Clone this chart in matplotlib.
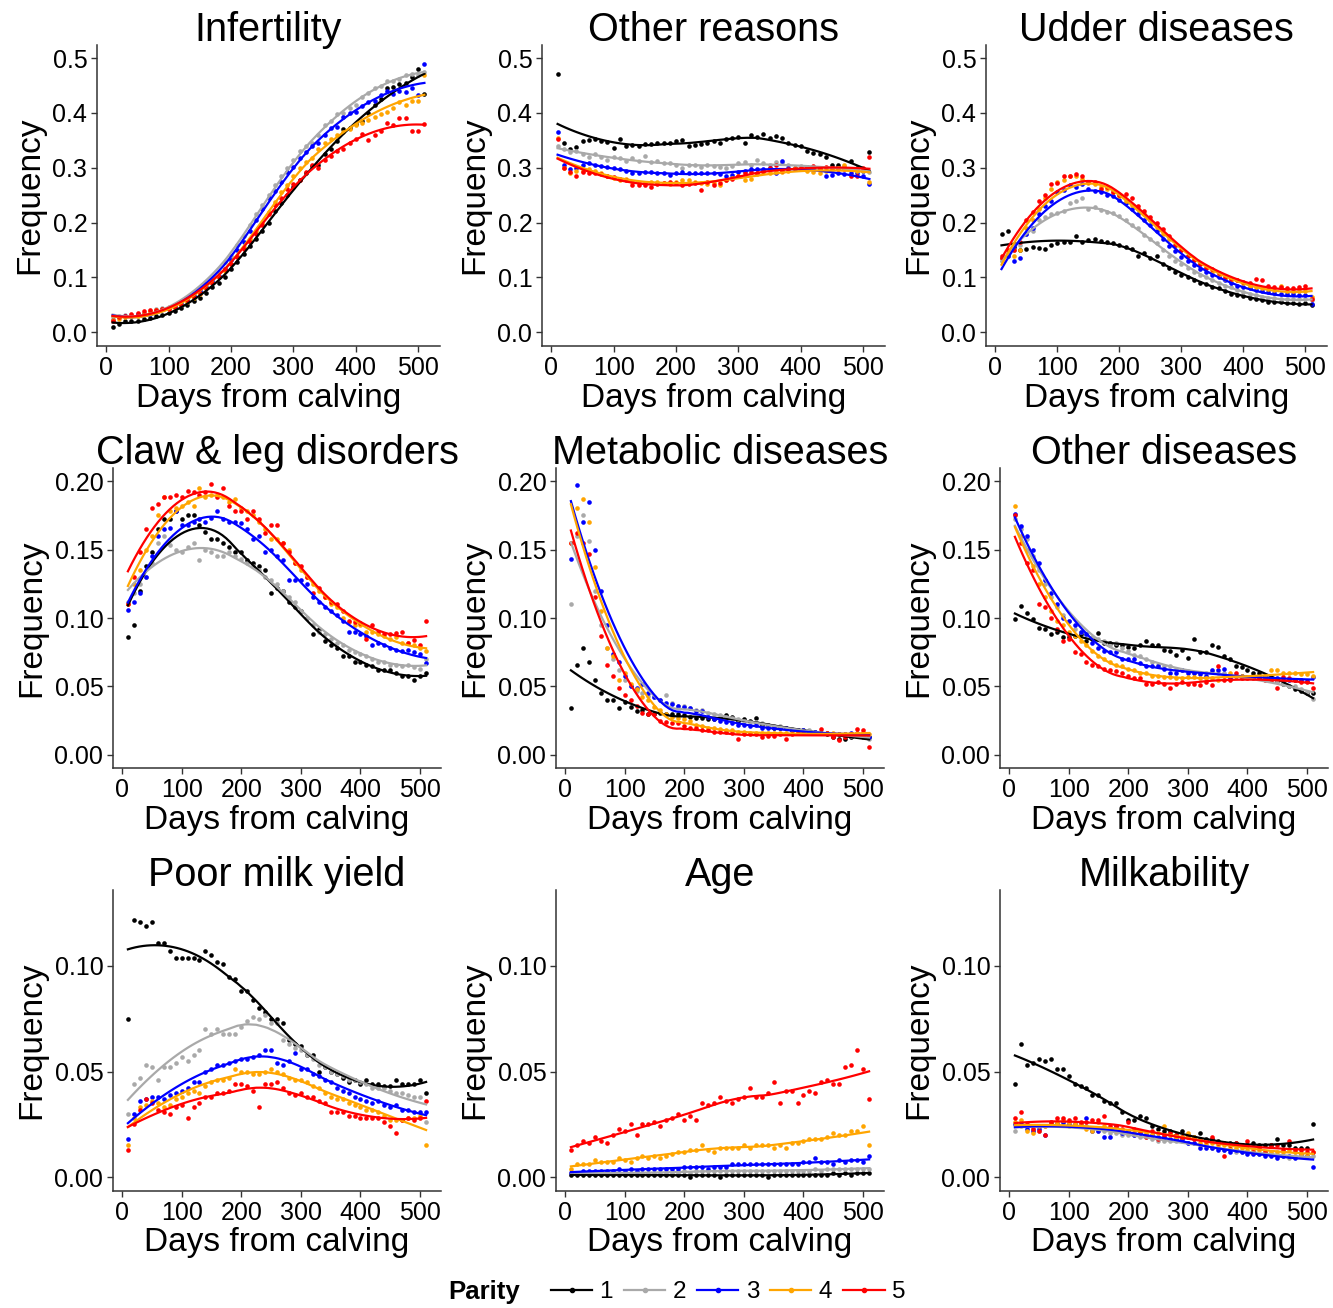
import numpy as np
import matplotlib
matplotlib.use("Agg")
import matplotlib.pyplot as plt
from matplotlib.lines import Line2D

plt.rcParams['font.family'] = ['Liberation Sans', 'DejaVu Sans']

days = list(range(10, 511, 10))
parity = ['1', '2', '3', '4', '5']
colors = ['black', '#A9A9A9', '#0000FF', '#FFA500', '#FF0000']

# frequencies per parity 1..5, one value every 10 days from 10 to 510
infertility = [
    [0.010, 0.015, 0.020, 0.020, 0.021, 0.024, 0.026, 0.030, 0.032, 0.036,
     0.038, 0.045, 0.050, 0.057, 0.063, 0.072, 0.082, 0.090, 0.100, 0.115,
     0.128, 0.142, 0.158, 0.170, 0.185, 0.200, 0.222, 0.235, 0.250, 0.265,
     0.278, 0.290, 0.303, 0.305, 0.325, 0.335, 0.348, 0.370, 0.372, 0.380,
     0.385, 0.400, 0.415, 0.425, 0.445, 0.448, 0.452, 0.455, 0.465, 0.480,
     0.435],
    [0.028, 0.030, 0.031, 0.032, 0.030, 0.035, 0.037, 0.042, 0.044, 0.046,
     0.048, 0.055, 0.060, 0.070, 0.078, 0.088, 0.098, 0.110, 0.128, 0.140,
     0.160, 0.175, 0.195, 0.215, 0.232, 0.250, 0.268, 0.285, 0.300, 0.315,
     0.330, 0.340, 0.345, 0.360, 0.378, 0.385, 0.398, 0.400, 0.410, 0.415,
     0.430, 0.437, 0.445, 0.450, 0.458, 0.458, 0.462, 0.470, 0.472, 0.470,
     0.475],
    [0.022, 0.028, 0.030, 0.030, 0.033, 0.033, 0.034, 0.038, 0.043, 0.045,
     0.047, 0.052, 0.058, 0.066, 0.075, 0.083, 0.093, 0.102, 0.115, 0.132,
     0.150, 0.165, 0.185, 0.205, 0.225, 0.245, 0.258, 0.275, 0.292, 0.302,
     0.318, 0.328, 0.340, 0.345, 0.360, 0.372, 0.375, 0.392, 0.400, 0.402,
     0.412, 0.420, 0.422, 0.432, 0.440, 0.435, 0.440, 0.438, 0.445, 0.432,
     0.490],
    [0.022, 0.025, 0.027, 0.030, 0.030, 0.033, 0.038, 0.040, 0.043, 0.043,
     0.045, 0.050, 0.055, 0.062, 0.070, 0.080, 0.090, 0.100, 0.112, 0.125,
     0.140, 0.155, 0.170, 0.185, 0.200, 0.220, 0.238, 0.255, 0.268, 0.285,
     0.300, 0.310, 0.318, 0.335, 0.345, 0.352, 0.360, 0.365, 0.370, 0.378,
     0.382, 0.388, 0.392, 0.398, 0.402, 0.410, 0.420, 0.415, 0.422, 0.421,
     0.470],
    [0.020, 0.027, 0.030, 0.033, 0.035, 0.038, 0.040, 0.040, 0.042, 0.043,
     0.046, 0.050, 0.058, 0.064, 0.072, 0.080, 0.090, 0.100, 0.115, 0.125,
     0.138, 0.152, 0.165, 0.180, 0.195, 0.215, 0.232, 0.245, 0.262, 0.270,
     0.278, 0.292, 0.305, 0.300, 0.315, 0.322, 0.330, 0.335, 0.345, 0.352,
     0.362, 0.350, 0.360, 0.368, 0.382, 0.378, 0.390, 0.390, 0.368, 0.368,
     0.380],
]
other_reasons = [
    [0.472, 0.345, 0.335, 0.338, 0.348, 0.350, 0.352, 0.348, 0.347, 0.336,
     0.352, 0.340, 0.342, 0.340, 0.343, 0.343, 0.346, 0.345, 0.345, 0.348,
     0.350, 0.340, 0.342, 0.343, 0.346, 0.348, 0.345, 0.352, 0.355, 0.357,
     0.346, 0.360, 0.356, 0.362, 0.355, 0.358, 0.355, 0.345, 0.342, 0.340,
     0.330, 0.327, 0.325, 0.320, 0.305, 0.305, 0.300, 0.313, 0.300, 0.295,
     0.328],
    [0.340, 0.335, 0.328, 0.330, 0.325, 0.320, 0.325, 0.320, 0.315, 0.320,
     0.318, 0.312, 0.318, 0.312, 0.322, 0.310, 0.312, 0.308, 0.308, 0.305,
     0.300, 0.305, 0.306, 0.302, 0.305, 0.303, 0.302, 0.300, 0.304, 0.308,
     0.310, 0.306, 0.314, 0.308, 0.305, 0.310, 0.308, 0.305, 0.300, 0.303,
     0.302, 0.300, 0.300, 0.298, 0.296, 0.300, 0.303, 0.298, 0.298, 0.295,
     0.292],
    [0.365, 0.305, 0.298, 0.300, 0.305, 0.308, 0.305, 0.303, 0.302, 0.300,
     0.298, 0.295, 0.291, 0.290, 0.292, 0.292, 0.290, 0.290, 0.287, 0.290,
     0.293, 0.290, 0.290, 0.290, 0.290, 0.290, 0.288, 0.285, 0.287, 0.292,
     0.295, 0.297, 0.297, 0.298, 0.300, 0.290, 0.313, 0.300, 0.300, 0.298,
     0.302, 0.300, 0.298, 0.285, 0.287, 0.290, 0.288, 0.290, 0.290, 0.285,
     0.270],
    [0.355, 0.300, 0.290, 0.295, 0.295, 0.298, 0.295, 0.290, 0.285, 0.282,
     0.278, 0.280, 0.275, 0.272, 0.272, 0.275, 0.275, 0.272, 0.270, 0.275,
     0.278, 0.278, 0.275, 0.272, 0.270, 0.272, 0.268, 0.278, 0.282, 0.285,
     0.278, 0.280, 0.288, 0.292, 0.290, 0.292, 0.292, 0.295, 0.300, 0.298,
     0.295, 0.292, 0.290, 0.295, 0.298, 0.300, 0.305, 0.298, 0.295, 0.296,
     0.275],
    [0.352, 0.300, 0.292, 0.285, 0.292, 0.290, 0.290, 0.288, 0.285, 0.283,
     0.280, 0.278, 0.268, 0.268, 0.268, 0.265, 0.270, 0.272, 0.275, 0.272,
     0.268, 0.270, 0.272, 0.260, 0.275, 0.268, 0.272, 0.278, 0.280, 0.285,
     0.290, 0.292, 0.290, 0.295, 0.300, 0.305, 0.295, 0.298, 0.298, 0.300,
     0.300, 0.303, 0.300, 0.302, 0.300, 0.298, 0.298, 0.285, 0.285, 0.300,
     0.320],
]
udder = [
    [0.180, 0.185, 0.155, 0.150, 0.152, 0.155, 0.153, 0.152, 0.160, 0.162,
     0.165, 0.165, 0.176, 0.165, 0.168, 0.170, 0.167, 0.165, 0.162, 0.160,
     0.155, 0.152, 0.140, 0.145, 0.136, 0.139, 0.125, 0.118, 0.110, 0.105,
     0.100, 0.095, 0.090, 0.088, 0.082, 0.080, 0.075, 0.070, 0.068, 0.066,
     0.062, 0.060, 0.058, 0.056, 0.055, 0.055, 0.053, 0.053, 0.052, 0.053,
     0.050],
    [0.130, 0.140, 0.150, 0.160, 0.180, 0.185, 0.205, 0.210, 0.215, 0.218,
     0.222, 0.235, 0.240, 0.245, 0.225, 0.228, 0.223, 0.220, 0.218, 0.212,
     0.205, 0.195, 0.190, 0.178, 0.170, 0.162, 0.150, 0.140, 0.130, 0.125,
     0.118, 0.110, 0.105, 0.100, 0.095, 0.090, 0.085, 0.082, 0.078, 0.074,
     0.070, 0.068, 0.065, 0.063, 0.062, 0.060, 0.060, 0.060, 0.060, 0.060,
     0.058],
    [0.135, 0.140, 0.130, 0.135, 0.180, 0.190, 0.215, 0.230, 0.240, 0.255,
     0.260, 0.268, 0.265, 0.270, 0.262, 0.258, 0.255, 0.250, 0.248, 0.242,
     0.235, 0.225, 0.215, 0.205, 0.195, 0.185, 0.170, 0.158, 0.148, 0.138,
     0.130, 0.122, 0.115, 0.110, 0.105, 0.100, 0.095, 0.090, 0.085, 0.082,
     0.080, 0.078, 0.075, 0.073, 0.072, 0.070, 0.070, 0.069, 0.068, 0.068,
     0.052],
    [0.135, 0.145, 0.140, 0.150, 0.190, 0.205, 0.225, 0.245, 0.262, 0.275,
     0.278, 0.285, 0.285, 0.280, 0.272, 0.270, 0.265, 0.262, 0.255, 0.248,
     0.240, 0.232, 0.225, 0.215, 0.205, 0.192, 0.180, 0.170, 0.158, 0.150,
     0.140, 0.132, 0.125, 0.118, 0.110, 0.105, 0.098, 0.095, 0.095, 0.090,
     0.085, 0.082, 0.080, 0.079, 0.078, 0.085, 0.075, 0.075, 0.075, 0.075,
     0.065],
    [0.140, 0.150, 0.150, 0.165, 0.205, 0.220, 0.240, 0.250, 0.270, 0.272,
     0.285, 0.285, 0.288, 0.285, 0.275, 0.275, 0.262, 0.265, 0.255, 0.250,
     0.252, 0.245, 0.230, 0.222, 0.210, 0.200, 0.188, 0.175, 0.160, 0.150,
     0.140, 0.132, 0.125, 0.118, 0.115, 0.108, 0.100, 0.098, 0.095, 0.092,
     0.090, 0.098, 0.095, 0.085, 0.082, 0.082, 0.080, 0.080, 0.082, 0.085,
     0.060],
]
claw_leg = [
    [0.086, 0.095, 0.120, 0.138, 0.148, 0.165, 0.172, 0.172, 0.178, 0.172,
     0.175, 0.175, 0.168, 0.163, 0.158, 0.158, 0.155, 0.152, 0.148, 0.148,
     0.142, 0.140, 0.138, 0.135, 0.118, 0.122, 0.120, 0.112, 0.108, 0.105,
     0.100, 0.088, 0.092, 0.083, 0.080, 0.078, 0.072, 0.072, 0.068, 0.068,
     0.066, 0.065, 0.062, 0.062, 0.062, 0.060, 0.058, 0.058, 0.055, 0.058,
     0.060],
    [0.112, 0.118, 0.125, 0.130, 0.140, 0.155, 0.160, 0.153, 0.150, 0.148,
     0.152, 0.155, 0.142, 0.150, 0.148, 0.145, 0.145, 0.148, 0.145, 0.143,
     0.140, 0.138, 0.135, 0.130, 0.128, 0.125, 0.120, 0.115, 0.112, 0.105,
     0.100, 0.095, 0.090, 0.088, 0.085, 0.082, 0.080, 0.077, 0.075, 0.074,
     0.072, 0.070, 0.068, 0.068, 0.066, 0.066, 0.065, 0.066, 0.064, 0.063,
     0.070],
    [0.106, 0.112, 0.118, 0.130, 0.145, 0.160, 0.165, 0.166, 0.178, 0.168,
     0.168, 0.170, 0.172, 0.170, 0.173, 0.178, 0.172, 0.170, 0.170, 0.169,
     0.165, 0.158, 0.160, 0.148, 0.150, 0.145, 0.142, 0.128, 0.128, 0.128,
     0.125, 0.115, 0.112, 0.108, 0.105, 0.102, 0.098, 0.090, 0.090, 0.088,
     0.087, 0.080, 0.082, 0.080, 0.078, 0.077, 0.076, 0.077, 0.075, 0.074,
     0.067],
    [0.110, 0.125, 0.135, 0.150, 0.160, 0.175, 0.188, 0.178, 0.180, 0.182,
     0.185, 0.182, 0.195, 0.188, 0.190, 0.190, 0.188, 0.185, 0.187, 0.180,
     0.178, 0.175, 0.170, 0.165, 0.158, 0.158, 0.155, 0.150, 0.140, 0.135,
     0.130, 0.125, 0.120, 0.115, 0.110, 0.108, 0.100, 0.097, 0.095, 0.095,
     0.090, 0.090, 0.088, 0.087, 0.085, 0.086, 0.082, 0.082, 0.080, 0.078,
     0.076],
    [0.110, 0.130, 0.148, 0.165, 0.180, 0.183, 0.188, 0.188, 0.190, 0.188,
     0.193, 0.192, 0.190, 0.192, 0.198, 0.188, 0.195, 0.182, 0.178, 0.178,
     0.172, 0.178, 0.172, 0.162, 0.168, 0.168, 0.155, 0.148, 0.140, 0.138,
     0.130, 0.118, 0.122, 0.115, 0.112, 0.110, 0.105, 0.098, 0.097, 0.096,
     0.085, 0.095, 0.090, 0.088, 0.088, 0.089, 0.090, 0.082, 0.084, 0.080,
     0.098],
]
metabolic = [
    [0.034, 0.066, 0.078, 0.068, 0.055, 0.045, 0.040, 0.040, 0.034, 0.039,
     0.035, 0.032, 0.033, 0.030, 0.030, 0.031, 0.030, 0.030, 0.030, 0.029,
     0.028, 0.027, 0.027, 0.026, 0.026, 0.027, 0.029, 0.028, 0.025, 0.026,
     0.025, 0.027, 0.022, 0.022, 0.020, 0.020, 0.020, 0.018, 0.018, 0.018,
     0.017, 0.017, 0.016, 0.015, 0.013, 0.012, 0.012, 0.013, 0.014, 0.013,
     0.013],
    [0.110, 0.160, 0.175, 0.156, 0.120, 0.095, 0.078, 0.070, 0.062, 0.055,
     0.050, 0.047, 0.045, 0.043, 0.042, 0.040, 0.044, 0.038, 0.036, 0.036,
     0.034, 0.033, 0.033, 0.031, 0.030, 0.029, 0.028, 0.027, 0.026, 0.025,
     0.024, 0.024, 0.023, 0.022, 0.021, 0.021, 0.020, 0.019, 0.018, 0.018,
     0.018, 0.017, 0.016, 0.016, 0.015, 0.015, 0.015, 0.014, 0.014, 0.013,
     0.012],
    [0.143, 0.197, 0.170, 0.185, 0.150, 0.120, 0.095, 0.074, 0.068, 0.058,
     0.050, 0.049, 0.052, 0.045, 0.042, 0.040, 0.038, 0.037, 0.036, 0.035,
     0.034, 0.032, 0.032, 0.028, 0.026, 0.025, 0.024, 0.023, 0.022, 0.022,
     0.021, 0.022, 0.020, 0.020, 0.020, 0.020, 0.020, 0.018, 0.018, 0.018,
     0.017, 0.017, 0.016, 0.016, 0.015, 0.015, 0.015, 0.016, 0.016, 0.016,
     0.013],
    [0.155, 0.180, 0.187, 0.170, 0.137, 0.105, 0.078, 0.072, 0.055, 0.060,
     0.052, 0.048, 0.042, 0.040, 0.035, 0.033, 0.030, 0.028, 0.027, 0.026,
     0.025, 0.022, 0.021, 0.020, 0.020, 0.019, 0.018, 0.018, 0.017, 0.017,
     0.016, 0.016, 0.016, 0.016, 0.016, 0.016, 0.016, 0.016, 0.017, 0.017,
     0.017, 0.016, 0.016, 0.016, 0.016, 0.015, 0.015, 0.015, 0.016, 0.016,
     0.015],
    [0.155, 0.162, 0.155, 0.147, 0.115, 0.087, 0.066, 0.058, 0.049, 0.044,
     0.040, 0.036, 0.031, 0.030, 0.030, 0.025, 0.024, 0.023, 0.023, 0.021,
     0.020, 0.020, 0.018, 0.018, 0.017, 0.017, 0.017, 0.016, 0.012, 0.015,
     0.015, 0.015, 0.013, 0.014, 0.014, 0.015, 0.012, 0.015, 0.016, 0.016,
     0.016, 0.016, 0.019, 0.016, 0.013, 0.011, 0.013, 0.015, 0.019, 0.018,
     0.006],
]
other_diseases = [
    [0.099, 0.109, 0.104, 0.099, 0.093, 0.092, 0.088, 0.090, 0.086, 0.086,
     0.087, 0.088, 0.083, 0.085, 0.089, 0.082, 0.082, 0.080, 0.080, 0.079,
     0.078, 0.080, 0.083, 0.080, 0.080, 0.077, 0.076, 0.073, 0.077, 0.071,
     0.085, 0.075, 0.075, 0.080, 0.079, 0.072, 0.070, 0.065, 0.064, 0.062,
     0.060, 0.060, 0.058, 0.056, 0.054, 0.052, 0.050, 0.048, 0.047, 0.045,
     0.045],
    [0.172, 0.165, 0.158, 0.145, 0.135, 0.125, 0.115, 0.108, 0.102, 0.098,
     0.092, 0.090, 0.088, 0.086, 0.085, 0.083, 0.080, 0.082, 0.078, 0.076,
     0.073, 0.072, 0.070, 0.068, 0.066, 0.065, 0.065, 0.063, 0.062, 0.061,
     0.060, 0.060, 0.060, 0.061, 0.060, 0.060, 0.058, 0.058, 0.058, 0.057,
     0.057, 0.056, 0.056, 0.055, 0.054, 0.052, 0.050, 0.050, 0.048, 0.046,
     0.041],
    [0.176, 0.167, 0.160, 0.150, 0.140, 0.128, 0.118, 0.110, 0.100, 0.098,
     0.095, 0.090, 0.088, 0.082, 0.078, 0.076, 0.075, 0.075, 0.070, 0.070,
     0.070, 0.067, 0.065, 0.065, 0.065, 0.063, 0.060, 0.060, 0.062, 0.060,
     0.060, 0.059, 0.058, 0.062, 0.062, 0.063, 0.056, 0.058, 0.058, 0.057,
     0.057, 0.057, 0.057, 0.056, 0.056, 0.055, 0.055, 0.055, 0.055, 0.054,
     0.057],
    [0.182, 0.160, 0.150, 0.138, 0.125, 0.115, 0.105, 0.098, 0.095, 0.090,
     0.087, 0.083, 0.080, 0.076, 0.072, 0.070, 0.068, 0.066, 0.065, 0.063,
     0.062, 0.060, 0.060, 0.058, 0.058, 0.057, 0.057, 0.056, 0.056, 0.057,
     0.057, 0.056, 0.056, 0.056, 0.055, 0.058, 0.060, 0.058, 0.058, 0.057,
     0.057, 0.057, 0.058, 0.062, 0.062, 0.060, 0.060, 0.060, 0.059, 0.059,
     0.058],
    [0.175, 0.155, 0.140, 0.135, 0.110, 0.108, 0.100, 0.092, 0.083, 0.085,
     0.075, 0.074, 0.068, 0.066, 0.065, 0.063, 0.062, 0.061, 0.060, 0.058,
     0.056, 0.056, 0.052, 0.052, 0.053, 0.052, 0.049, 0.052, 0.053, 0.052,
     0.052, 0.051, 0.053, 0.051, 0.065, 0.055, 0.055, 0.060, 0.056, 0.056,
     0.056, 0.056, 0.055, 0.055, 0.049, 0.057, 0.056, 0.055, 0.053, 0.053,
     0.049],
]
poor_milk = [
    [0.075, 0.122, 0.121, 0.119, 0.121, 0.111, 0.111, 0.107, 0.104, 0.104,
     0.104, 0.104, 0.103, 0.107, 0.105, 0.102, 0.101, 0.095, 0.094, 0.088,
     0.088, 0.084, 0.080, 0.078, 0.075, 0.075, 0.073, 0.065, 0.063, 0.062,
     0.058, 0.058, 0.050, 0.052, 0.050, 0.049, 0.047, 0.045, 0.046, 0.044,
     0.046, 0.044, 0.044, 0.043, 0.043, 0.046, 0.044, 0.044, 0.044, 0.046,
     0.040],
    [0.030, 0.044, 0.047, 0.053, 0.052, 0.046, 0.052, 0.052, 0.054, 0.057,
     0.055, 0.058, 0.060, 0.070, 0.068, 0.070, 0.068, 0.068, 0.068, 0.071,
     0.074, 0.076, 0.075, 0.077, 0.073, 0.073, 0.065, 0.063, 0.061, 0.060,
     0.058, 0.056, 0.053, 0.052, 0.050, 0.049, 0.048, 0.046, 0.046, 0.045,
     0.044, 0.042, 0.042, 0.042, 0.041, 0.040, 0.040, 0.039, 0.038, 0.038,
     0.026],
    [0.018, 0.030, 0.036, 0.037, 0.038, 0.038, 0.037, 0.039, 0.040, 0.041,
     0.042, 0.045, 0.045, 0.050, 0.051, 0.053, 0.053, 0.054, 0.055, 0.056,
     0.056, 0.057, 0.058, 0.060, 0.060, 0.054, 0.053, 0.055, 0.059, 0.051,
     0.051, 0.049, 0.048, 0.046, 0.045, 0.042, 0.041, 0.040, 0.038, 0.037,
     0.036, 0.035, 0.036, 0.034, 0.033, 0.034, 0.032, 0.032, 0.031, 0.031,
     0.031],
    [0.015, 0.028, 0.033, 0.034, 0.036, 0.035, 0.033, 0.034, 0.037, 0.038,
     0.040, 0.041, 0.040, 0.043, 0.045, 0.046, 0.046, 0.047, 0.051, 0.050,
     0.050, 0.049, 0.049, 0.050, 0.051, 0.050, 0.049, 0.047, 0.046, 0.046,
     0.045, 0.043, 0.042, 0.040, 0.038, 0.037, 0.037, 0.035, 0.034, 0.033,
     0.032, 0.032, 0.031, 0.029, 0.027, 0.027, 0.027, 0.028, 0.028, 0.029,
     0.015],
    [0.013, 0.025, 0.032, 0.037, 0.035, 0.032, 0.031, 0.030, 0.033, 0.034,
     0.028, 0.033, 0.035, 0.038, 0.038, 0.040, 0.040, 0.041, 0.044, 0.044,
     0.043, 0.041, 0.033, 0.044, 0.044, 0.045, 0.042, 0.040, 0.039, 0.040,
     0.038, 0.038, 0.036, 0.035, 0.031, 0.031, 0.031, 0.029, 0.029, 0.028,
     0.028, 0.028, 0.028, 0.026, 0.024, 0.021, 0.027, 0.028, 0.027, 0.028,
     0.036],
]
age = [
    [0.001, 0.001, 0.001, 0.001, 0.001, 0.001, 0.001, 0.001, 0.001, 0.001,
     0.001, 0.001, 0.001, 0.001, 0.001, 0.001, 0.001, 0.001, 0.001, 0.001,
     0.000, 0.001, 0.001, 0.001, 0.001, 0.000, 0.001, 0.001, 0.001, 0.001,
     0.001, 0.001, 0.001, 0.000, 0.001, 0.001, 0.001, 0.001, 0.001, 0.001,
     0.001, 0.001, 0.001, 0.001, 0.002, 0.001, 0.002, 0.001, 0.002, 0.002,
     0.002],
    [0.002, 0.002, 0.002, 0.002, 0.002, 0.002, 0.002, 0.002, 0.002, 0.002,
     0.002, 0.002, 0.002, 0.002, 0.002, 0.002, 0.002, 0.002, 0.002, 0.003,
     0.002, 0.003, 0.003, 0.003, 0.003, 0.003, 0.003, 0.003, 0.003, 0.003,
     0.003, 0.003, 0.003, 0.003, 0.003, 0.003, 0.003, 0.003, 0.003, 0.003,
     0.003, 0.004, 0.003, 0.004, 0.004, 0.004, 0.004, 0.004, 0.004, 0.004,
     0.004],
    [0.002, 0.002, 0.003, 0.003, 0.003, 0.003, 0.003, 0.003, 0.004, 0.003,
     0.004, 0.003, 0.004, 0.004, 0.004, 0.004, 0.004, 0.004, 0.004, 0.005,
     0.005, 0.005, 0.005, 0.004, 0.005, 0.005, 0.005, 0.006, 0.006, 0.006,
     0.006, 0.006, 0.006, 0.006, 0.006, 0.006, 0.006, 0.006, 0.006, 0.007,
     0.007, 0.009, 0.007, 0.007, 0.006, 0.008, 0.007, 0.008, 0.008, 0.007,
     0.010],
    [0.004, 0.006, 0.006, 0.006, 0.008, 0.007, 0.007, 0.007, 0.009, 0.008,
     0.007, 0.009, 0.010, 0.009, 0.010, 0.009, 0.010, 0.011, 0.012, 0.012,
     0.013, 0.013, 0.015, 0.013, 0.012, 0.014, 0.014, 0.014, 0.014, 0.015,
     0.014, 0.015, 0.015, 0.015, 0.014, 0.015, 0.014, 0.016, 0.016, 0.017,
     0.018, 0.018, 0.018, 0.019, 0.021, 0.020, 0.020, 0.022, 0.022, 0.024,
     0.015],
    [0.013, 0.015, 0.017, 0.016, 0.019, 0.017, 0.016, 0.020, 0.023, 0.022,
     0.025, 0.020, 0.025, 0.025, 0.026, 0.024, 0.027, 0.028, 0.030, 0.027,
     0.029, 0.027, 0.035, 0.034, 0.035, 0.038, 0.036, 0.035, 0.037, 0.038,
     0.042, 0.038, 0.038, 0.040, 0.045, 0.035, 0.041, 0.041, 0.035, 0.039,
     0.041, 0.040, 0.045, 0.046, 0.044, 0.044, 0.052, 0.053, 0.060, 0.051,
     0.037],
]
milkability = [
    [0.044, 0.063, 0.053, 0.054, 0.056, 0.055, 0.056, 0.051, 0.051, 0.048,
     0.044, 0.043, 0.042, 0.039, 0.039, 0.036, 0.035, 0.035, 0.031, 0.027,
     0.027, 0.029, 0.028, 0.024, 0.023, 0.022, 0.022, 0.020, 0.022, 0.020,
     0.019, 0.021, 0.018, 0.018, 0.017, 0.016, 0.016, 0.016, 0.015, 0.015,
     0.016, 0.015, 0.015, 0.015, 0.018, 0.015, 0.015, 0.014, 0.014, 0.014,
     0.025],
    [0.022, 0.024, 0.024, 0.023, 0.022, 0.024, 0.026, 0.025, 0.025, 0.024,
     0.024, 0.024, 0.024, 0.023, 0.022, 0.022, 0.021, 0.021, 0.020, 0.020,
     0.020, 0.019, 0.019, 0.018, 0.017, 0.017, 0.017, 0.017, 0.017, 0.016,
     0.016, 0.015, 0.015, 0.014, 0.014, 0.013, 0.013, 0.012, 0.012, 0.012,
     0.012, 0.011, 0.011, 0.011, 0.010, 0.010, 0.009, 0.010, 0.010, 0.010,
     0.010],
    [0.025, 0.025, 0.023, 0.022, 0.023, 0.020, 0.025, 0.025, 0.026, 0.025,
     0.025, 0.025, 0.028, 0.022, 0.022, 0.019, 0.019, 0.024, 0.021, 0.022,
     0.020, 0.021, 0.020, 0.020, 0.019, 0.019, 0.018, 0.018, 0.018, 0.016,
     0.016, 0.014, 0.014, 0.014, 0.013, 0.013, 0.012, 0.013, 0.012, 0.011,
     0.011, 0.011, 0.010, 0.010, 0.009, 0.010, 0.010, 0.009, 0.011, 0.010,
     0.005],
    [0.026, 0.027, 0.022, 0.021, 0.024, 0.024, 0.025, 0.026, 0.027, 0.026,
     0.025, 0.025, 0.023, 0.022, 0.026, 0.024, 0.023, 0.022, 0.022, 0.021,
     0.021, 0.022, 0.021, 0.020, 0.021, 0.024, 0.020, 0.019, 0.019, 0.021,
     0.019, 0.016, 0.016, 0.016, 0.015, 0.015, 0.014, 0.014, 0.014, 0.013,
     0.013, 0.013, 0.012, 0.012, 0.012, 0.012, 0.013, 0.012, 0.011, 0.010,
     0.012],
    [0.028, 0.031, 0.025, 0.023, 0.022, 0.020, 0.026, 0.028, 0.028, 0.027,
     0.028, 0.026, 0.026, 0.027, 0.027, 0.029, 0.024, 0.024, 0.023, 0.026,
     0.023, 0.022, 0.019, 0.022, 0.018, 0.020, 0.021, 0.020, 0.019, 0.019,
     0.018, 0.018, 0.017, 0.019, 0.016, 0.010, 0.015, 0.016, 0.015, 0.017,
     0.012, 0.014, 0.012, 0.015, 0.015, 0.013, 0.017, 0.013, 0.013, 0.012,
     0.012],
]

titles = ['Infertility', 'Other reasons', 'Udder diseases',
          'Claw & leg disorders', 'Metabolic diseases', 'Other diseases',
          'Poor milk yield', 'Age', 'Milkability']
panels = [infertility, other_reasons, udder, claw_leg, metabolic, other_diseases,
          poor_milk, age, milkability]


def loess(x, y, span=0.75, n=80):
    """local quadratic regression with tricube weights (like geom_smooth)"""
    x = np.asarray(x, float)
    y = np.asarray(y, float)
    xs = np.linspace(x.min(), x.max(), n)
    q = int(np.floor(span * len(x)))
    fit = []
    for x0 in xs:
        d = np.abs(x - x0)
        h = np.sort(d)[q - 1] * 1.0001
        w = np.clip(1 - (d / h) ** 3, 0, None) ** 3
        A = np.vstack([np.ones_like(x), x - x0, (x - x0) ** 2]).T
        sw = np.sqrt(w)
        coef = np.linalg.lstsq(A * sw[:, None], y * sw, rcond=None)[0]
        fit.append(coef[0])
    return xs, np.array(fit)


W, H = 1333, 1308
fig = plt.figure(figsize=(W / 100, H / 100), dpi=100)

rows = [(45, 346), (468, 768), (890, 1191)]
cols = [[(97, 440), (542, 885), (986, 1327)],
        [(113, 441), (556, 884), (1000, 1328)],
        [(113, 441), (556, 884), (1000, 1328)]]
ylims = [(-0.025, 0.524), (-0.0095, 0.2095), (-0.0066, 0.136)]
yticks = [np.arange(0, 0.51, 0.1), np.arange(0, 0.201, 0.05), [0, 0.05, 0.10]]
yfmt = ['{:.1f}', '{:.2f}', '{:.2f}']

for i, (title, data) in enumerate(zip(titles, panels)):
    r, c = divmod(i, 3)
    top, bot = rows[r]
    left, right = cols[r][c]
    ax = fig.add_axes([left / W, 1 - bot / H, (right - left) / W, (bot - top) / H])
    for vals, col in zip(data, colors):
        ax.scatter(days, vals, s=11, color=col, linewidths=0, zorder=2)
    for vals, col in zip(data, colors):
        xs, ys = loess(days, vals)
        ax.plot(xs, ys, color=col, lw=1.6, zorder=3)
    ax.set_xlim(-15, 535)
    ax.set_ylim(*ylims[r])
    ax.set_xticks(range(0, 501, 100))
    ax.set_yticks(yticks[r])
    ax.set_yticklabels([yfmt[r].format(v) for v in yticks[r]])
    for s in ['top', 'right']:
        ax.spines[s].set_visible(False)
    for s in ['left', 'bottom']:
        ax.spines[s].set_color('#333333')
        ax.spines[s].set_linewidth(1.1)
    ax.tick_params(direction='out', length=4, width=1, color='#333333',
                   labelsize=18, pad=3, labelcolor='black')
    ax.set_title(title, fontsize=28.5, y=1.0, pad=3)
    ax.set_xlabel('Days from calving', fontsize=24, labelpad=2)
    ax.set_ylabel('Frequency', fontsize=24, labelpad=5)

handles = [Line2D([0], [0], color=col, lw=1.6, marker='o', markersize=3)
           for col in colors]
fig.text(448 / W, 1 - 1292 / H, 'Parity', fontsize=18.5, fontweight='bold',
         va='center', ha='left')
fig.legend(handles, parity, loc='center left', bbox_to_anchor=(551 / W, 1 - 1292 / H),
           ncol=5, frameon=False, fontsize=17.5, handlelength=1.7, handletextpad=0.3,
           columnspacing=0.45, borderaxespad=0, borderpad=0)

fig.savefig('out.png', dpi=100)
